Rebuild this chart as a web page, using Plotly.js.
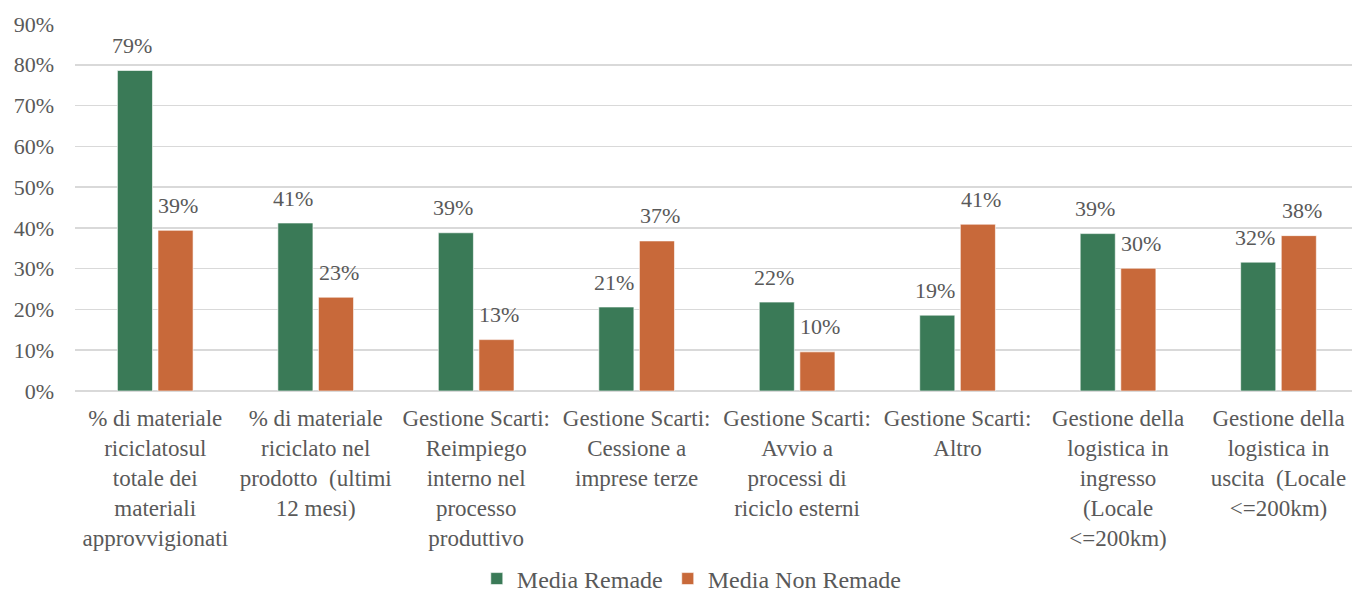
<!DOCTYPE html>
<html>
<head>
<meta charset="utf-8">
<script src="https://cdn.plot.ly/plotly-3.0.1.min.js"></script>
<style>
html,body{margin:0;padding:0;background:#fff;}
#chart{width:1352px;height:589px;}
</style>
</head>
<body>
<div id="chart"></div>
<script>
const categories = [
  "% di materiale<br>riciclatosul<br>totale dei<br>materiali<br>approvvigionati",
  "% di materiale<br>riciclato nel<br>prodotto  (ultimi<br>12 mesi)",
  "Gestione Scarti:<br>Reimpiego<br>interno nel<br>processo<br>produttivo",
  "Gestione Scarti:<br>Cessione a<br>imprese terze",
  "Gestione Scarti:<br>Avvio a<br>processi di<br>riciclo esterni",
  "Gestione Scarti:<br>Altro",
  "Gestione della<br>logistica in<br>ingresso<br>(Locale<br>&lt;=200km)",
  "Gestione della<br>logistica in<br>uscita  (Locale<br>&lt;=200km)"
];
const seriesNames = ["Media Remade", "Media Non Remade"];
const remade    = [0.786, 0.412, 0.388, 0.206, 0.218, 0.186, 0.386, 0.316];
const nonRemade = [0.394, 0.230, 0.126, 0.368, 0.096, 0.409, 0.301, 0.381];
const remadeLabels    = ["79%", "41%", "39%", "21%", "22%", "19%", "39%", "32%"];
const nonRemadeLabels = ["39%", "23%", "13%", "37%", "10%", "41%", "30%", "38%"];
const yTickVals  = [0, 0.1, 0.2, 0.3, 0.4, 0.5, 0.6, 0.7, 0.8, 0.9];
const yTickTexts = ["0%", "10%", "20%", "30%", "40%", "50%", "60%", "70%", "80%", "90%"];

const GREEN = "#3a7a57";
const ORANGE = "#c8693a";
const TEXT = "#595959";
const FONT = "Times New Roman";

const traces = [
  {type: "bar", name: seriesNames[0], x: categories, y: remade,
   marker: {color: GREEN, line: {color: "rgba(255,255,255,0.6)", width: 1}}, hoverinfo: "none"},
  {type: "bar", name: seriesNames[1], x: categories, y: nonRemade,
   marker: {color: ORANGE, line: {color: "rgba(255,255,255,0.6)", width: 1}}, hoverinfo: "none"}
];

const annotations = [];
const offsets = [-0.5, 0.5];
[[remade, remadeLabels], [nonRemade, nonRemadeLabels]].forEach((pair, s) => {
  pair[0].forEach((v, i) => {
    annotations.push({
      x: i + offsets[s] * 0.287, xref: "x", y: v, yref: "y",
      text: pair[1][i], showarrow: false, yanchor: "middle", yshift: 25,
      font: {family: FONT, size: 22, color: TEXT}
    });
  });
});

const layout = {
  width: 1352, height: 589,
  margin: {l: 75, r: 0, t: 24, b: 198},
  paper_bgcolor: "#fff", plot_bgcolor: "#fff",
  font: {family: FONT, color: TEXT, size: 22},
  barmode: "group", bargap: 0.494, bargroupgap: 0.136,
  showlegend: true,
  legend: {orientation: "h", x: 0.483, xanchor: "center", yref: "container", y: 0.017, yanchor: "middle",
           font: {family: FONT, size: 24, color: TEXT}, itemclick: false},
  xaxis: {type: "category", range: [-0.5, 7.458], showgrid: false, zeroline: false,
          showline: false, ticks: "", tickfont: {family: FONT, size: 23, color: TEXT},
          tickangle: 0, automargin: false, ticklabelstandoff: 11},
  yaxis: {range: [0, 0.9], tickvals: yTickVals, ticktext: yTickTexts, showgrid: true,
          gridcolor: "#d9d9d9", gridwidth: 1.5, zeroline: true, zerolinecolor: "#d9d9d9",
          zerolinewidth: 1.5, showline: false, ticks: "", ticklabelstandoff: 20,
          tickfont: {family: FONT, size: 22, color: TEXT}, automargin: false},
  annotations: annotations
};

Plotly.newPlot("chart", traces, layout, {displayModeBar: false, staticPlot: true});
</script>
</body>
</html>
